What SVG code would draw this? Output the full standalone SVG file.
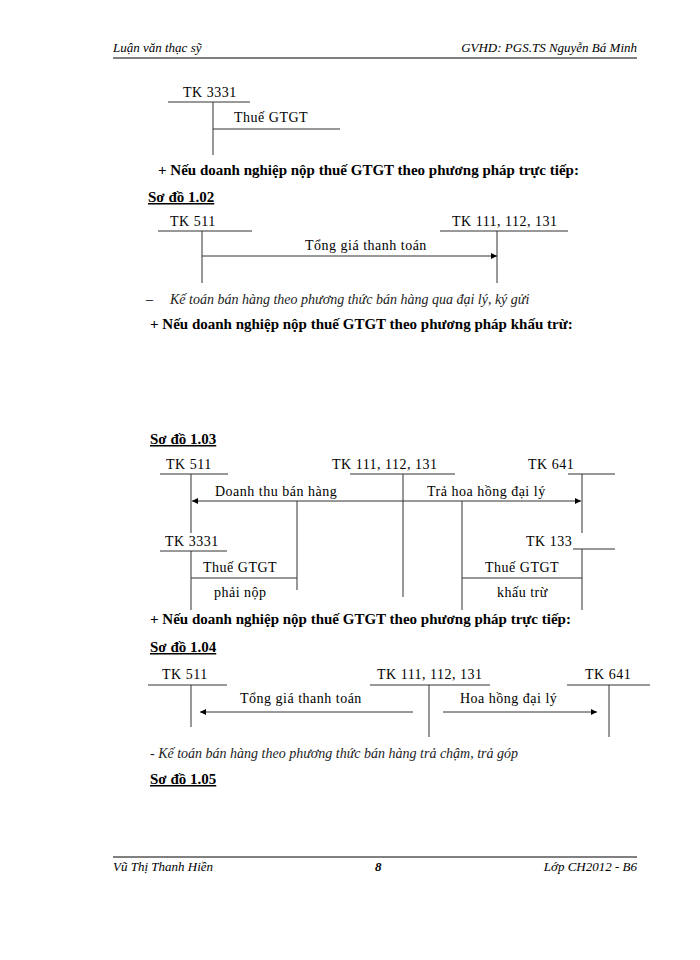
<svg xmlns="http://www.w3.org/2000/svg" width="700" height="960" viewBox="0 0 700 960">
<defs>
<marker id="ar" viewBox="0 0 10 10" refX="10" refY="5" markerWidth="8" markerHeight="6" orient="auto-start-reverse" markerUnits="userSpaceOnUse"><path d="M0,0L10,5L0,10z" fill="#000"/></marker>
</defs>
<style>
text{font-family:"Liberation Serif",serif;font-size:14px;fill:#000}
.it{font-style:italic}
.b{font-weight:bold;font-size:15px}
.u{text-decoration:underline}
.s{font-size:14px;letter-spacing:0.5px}
.h{font-size:13px}
line{stroke:#000;stroke-width:1}
.g line{stroke:#333}
</style>
<rect width="700" height="960" fill="#fff"/>
<text x="113" y="52" class="it h">Luận văn thạc sỹ</text>
<text x="637" y="52" class="it h" text-anchor="end">GVHD: PGS.TS Nguyễn Bá Minh</text>
<line x1="113" y1="58" x2="637" y2="58" stroke-width="1.5"/>

<g id="d0" class="g">
<text x="183" y="97" class="s">TK 3331</text>
<line x1="168" y1="102" x2="250" y2="102"/>
<line x1="213" y1="102" x2="213" y2="155"/>
<line x1="213" y1="129" x2="340" y2="129"/>
<text x="234" y="122" class="s">Thuế GTGT</text>
</g>
<text x="158" y="175" class="b">+ Nếu doanh nghiệp nộp thuế GTGT theo phương pháp trực tiếp:</text>
<text x="148" y="202" class="b u">Sơ đồ 1.02</text>
<g id="d102" class="g">
<text x="170" y="226" class="s">TK 511</text>
<line x1="158" y1="231" x2="252" y2="231"/>
<line x1="202" y1="231" x2="202" y2="283"/>
<text x="452" y="226" class="s">TK 111, 112, 131</text>
<line x1="440" y1="231" x2="568" y2="231"/>
<line x1="497" y1="231" x2="497" y2="283"/>
<line x1="202" y1="256" x2="497" y2="256" marker-end="url(#ar)"/>
<text x="305" y="250" class="s">Tổng giá thanh toán</text>
</g>
<text x="146" y="304" class="it">–</text>
<text x="170" y="304" class="it" style="fill:#222">Kế toán bán hàng theo phương thức bán hàng qua đại lý, ký gửi</text>
<text x="150" y="329" class="b">+ Nếu doanh nghiệp nộp thuế GTGT theo phương pháp khấu trừ:</text>

<text x="150" y="444" class="b u">Sơ đồ 1.03</text>
<g id="d103" class="g">
<text x="166" y="469" class="s">TK 511</text>
<line x1="160" y1="474" x2="228" y2="474"/>
<line x1="191" y1="474" x2="191" y2="533"/>
<text x="332" y="469" class="s">TK 111, 112, 131</text>
<line x1="350" y1="474" x2="455" y2="474"/>
<line x1="403" y1="474" x2="403" y2="597"/>
<text x="528" y="469" class="s">TK 641</text>
<line x1="568" y1="474" x2="615" y2="474"/>
<line x1="582" y1="474" x2="582" y2="533"/>
<line x1="403" y1="501" x2="192" y2="501" marker-end="url(#ar)"/>
<line x1="403" y1="501" x2="581" y2="501" marker-end="url(#ar)"/>
<text x="215" y="496" class="s">Doanh thu bán hàng</text>
<text x="427" y="496" class="s">Trả hoa hồng đại lý</text>
<line x1="297" y1="501" x2="297" y2="590"/>
<line x1="462" y1="501" x2="462" y2="610"/>
<text x="165" y="546" class="s">TK 3331</text>
<line x1="160" y1="551" x2="227" y2="551"/>
<line x1="191" y1="551" x2="191" y2="610"/>
<line x1="191" y1="578" x2="297" y2="578"/>
<text x="526" y="546" class="s">TK 133</text>
<line x1="573" y1="549" x2="615" y2="549"/>
<line x1="582" y1="549" x2="582" y2="610"/>
<line x1="462" y1="578" x2="582" y2="578"/>
<text x="203" y="572" class="s">Thuế GTGT</text>
<text x="214" y="597" class="s">phải nộp</text>
<text x="485" y="572" class="s">Thuế GTGT</text>
<text x="497" y="597" class="s">khấu trừ</text>
</g>
<text x="150" y="624" class="b">+ Nếu doanh nghiệp nộp thuế GTGT theo phương pháp trực tiếp:</text>
<text x="150" y="652" class="b u">Sơ đồ 1.04</text>
<g id="d104" class="g">
<text x="162" y="679" class="s">TK 511</text>
<line x1="148" y1="685" x2="227" y2="685"/>
<line x1="191" y1="685" x2="191" y2="727"/>
<text x="377" y="679" class="s">TK 111, 112, 131</text>
<line x1="370" y1="685" x2="490" y2="685"/>
<line x1="429" y1="685" x2="429" y2="737"/>
<text x="585" y="679" class="s">TK 641</text>
<line x1="567" y1="685" x2="650" y2="685"/>
<line x1="609" y1="685" x2="609" y2="737"/>
<line x1="413" y1="712" x2="200" y2="712" marker-end="url(#ar)"/>
<line x1="443" y1="712" x2="597" y2="712" marker-end="url(#ar)"/>
<text x="240" y="703" class="s">Tổng giá thanh toán</text>
<text x="460" y="703" class="s">Hoa hồng đại lý</text>
</g>
<text x="150" y="758" class="it" style="fill:#222">- Kế toán bán hàng theo phương thức bán hàng trả chậm, trả góp</text>
<text x="150" y="784" class="b u">Sơ đồ 1.05</text>

<line x1="113" y1="857" x2="637" y2="857" stroke-width="1.5"/>
<text x="113" y="871" class="it h">Vũ Thị Thanh Hiền</text>
<text x="375" y="871" class="it h" style="font-weight:bold">8</text>
<text x="637" y="871" class="it h" text-anchor="end">Lớp CH2012 - B6</text>
</svg>
